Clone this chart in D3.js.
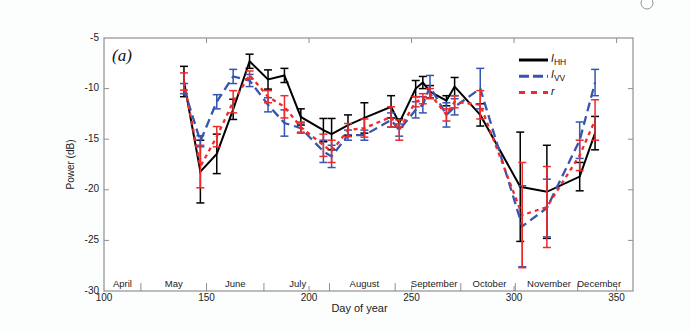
<!DOCTYPE html>
<html>
<head>
<meta charset="utf-8">
<script src="https://cdn.jsdelivr.net/npm/d3@7"></script>
<style>
  html, body { margin: 0; padding: 0; background: #fcfefe; }
  svg { display: block; }
  text { font-family: "Liberation Sans", Arial, sans-serif; fill: #222; }
  text.serif { font-family: "Liberation Serif", "DejaVu Serif", serif; font-style: italic; fill: #111; }
</style>
</head>
<body>
<svg id="chart" width="690" height="333"></svg>
<script>
// ---- data ----
const hhDays = [139, 147, 155, 163, 171, 180, 188, 196, 207, 211, 219, 227, 240, 244, 252, 255.5, 259, 267, 271, 283.5, 303, 316, 332, 339.5];
const hhVals = [-9.3, -18.2, -16.45, -12.05, -7.3, -9.1, -8.7, -12.8, -14.1, -14.5, -13.6, -12.9, -11.8, -13.4, -10.0, -9.4, -10.3, -11.2, -9.8, -12.6, -19.7, -20.2, -18.7, -14.4];
const hhErr  = [1.5, 3.1, 1.95, 1.0, 0.7, 0.95, 0.7, 0.8, 1.15, 1.55, 1.0, 1.5, 1.1, 0.4, 0.8, 0.6, 0.6, 0.5, 0.9, 1.1, 5.4, 4.6, 1.4, 1.65];

const vvDays = [139, 147, 155, 163, 171, 180, 188, 196, 207, 211, 219, 227, 240, 244, 252, 255.5, 259, 267, 271, 283.5, 304, 316, 332, 339.5];
const vvVals = [-10.0, -15.2, -11.3, -8.8, -9.2, -11.6, -13.4, -13.9, -16.2, -16.7, -14.6, -14.6, -13.1, -14.1, -12.1, -11.6, -9.8, -12.6, -11.8, -10.0, -23.6, -21.8, -15.1, -9.4];
const vvErr  = [0.5, 0.55, 0.7, 0.7, 0.6, 0.7, 1.3, 0.5, 1.1, 1.1, 0.5, 0.5, 0.7, 0.6, 0.8, 0.8, 1.1, 1.2, 0.8, 2.0, 4.0, 2.85, 1.8, 1.3];

const rDays = [139, 147, 155, 163, 171, 180, 188, 196, 207, 211, 219, 227, 240, 244, 252, 255.5, 259, 267, 271, 283.5, 304, 316, 332, 339.5];
const rVals = [-9.3, -17.7, -14.75, -11.3, -8.66, -10.8, -11.8, -13.8, -15.6, -16.2, -14.1, -13.9, -12.8, -14.1, -11.3, -11.0, -10.5, -12.6, -11.3, -11.6, -22.5, -21.7, -16.6, -13.1];
const rErr  = [0.85, 2.1, 1.0, 1.1, 0.4, 0.6, 1.1, 0.5, 1.1, 1.1, 0.65, 0.9, 1.0, 1.0, 0.5, 0.5, 0.5, 0.6, 0.6, 1.4, 5.2, 4.0, 1.5, 2.0];

const xTicks = [100, 150, 200, 250, 300, 350];
const yTicks = [-5, -10, -15, -20, -25, -30];
const monthNames = ["April", "May", "June", "July", "August", "September", "October", "November", "December"];
const monthCenters = [109, 134, 164, 194.5, 227, 261, 288, 317, 341.5];
const monthBounds = [118, 150, 178, 210, 242, 274, 300.6, 331];

// ---- layout ----
const svg = d3.select("#chart");
const L = 104, R = 633, T = 38, B = 291;
const x = d3.scaleLinear().domain([100, 358]).range([L, R]);
const y = d3.scaleLinear().domain([-30, -5]).range([B, T]);

const axisColor = "#8f8f8f";

// frame
svg.append("rect").attr("x", L).attr("y", T).attr("width", R - L).attr("height", B - T)
  .attr("fill", "#ffffff").attr("stroke", axisColor).attr("stroke-width", 1.2);

// y ticks (left & right, inward)
yTicks.forEach(v => {
  if (v !== -5 && v !== -30) {
    svg.append("line").attr("x1", L).attr("x2", L + 5).attr("y1", y(v)).attr("y2", y(v)).attr("stroke", axisColor);
    svg.append("line").attr("x1", R).attr("x2", R - 5).attr("y1", y(v)).attr("y2", y(v)).attr("stroke", axisColor);
  }
  svg.append("text").attr("x", L - 5).attr("y", y(v)).attr("text-anchor", "end")
    .attr("dominant-baseline", "middle").attr("font-size", 10).text(v);
});
// x ticks (top & bottom, inward)
xTicks.forEach(v => {
  if (v !== 100) {
    svg.append("line").attr("x1", x(v)).attr("x2", x(v)).attr("y1", T).attr("y2", T + 5).attr("stroke", axisColor);
    svg.append("line").attr("x1", x(v)).attr("x2", x(v)).attr("y1", B).attr("y2", B - 5).attr("stroke", axisColor);
  }
  svg.append("text").attr("x", x(v)).attr("y", B + 7).attr("text-anchor", "middle")
    .attr("dominant-baseline", "middle").attr("font-size", 10).text(v);
});
// month separators & labels
monthBounds.forEach(d => {
  svg.append("line").attr("x1", x(d)).attr("x2", x(d)).attr("y1", B).attr("y2", B - 8)
    .attr("stroke", axisColor).attr("stroke-width", 1);
});
monthNames.forEach((m, i) => {
  svg.append("text").attr("x", x(monthCenters[i])).attr("y", B - 7).attr("text-anchor", "middle")
    .attr("dominant-baseline", "middle").attr("font-size", 9.5).text(m);
});

// axis titles
svg.append("text").attr("x", (L + R) / 2 - 9).attr("y", B + 18).attr("text-anchor", "middle")
  .attr("dominant-baseline", "middle").attr("font-size", 11).text("Day of year");
svg.append("text").attr("transform", `translate(71,${(T + B) / 2}) rotate(-90)`)
  .attr("text-anchor", "middle").attr("dominant-baseline", "middle").attr("font-size", 10).text("Power (dB)");

// panel label
svg.append("text").attr("class", "serif").attr("x", 112).attr("y", 61)
  .attr("font-size", 17).text("(a)");

// ---- series ----
const series = [
  { days: hhDays, vals: hhVals, err: hhErr, color: "#000000", dash: null, width: 2 },
  { days: vvDays, vals: vvVals, err: vvErr, color: "#3556b0", dash: "9,5", width: 2.3 },
  { days: rDays, vals: rVals, err: rErr, color: "#ee2a2a", dash: "4,4", width: 2.3 }
];
const line = d3.line().x(d => x(d.d)).y(d => y(d.v));
const cap = 4;
series.forEach(s => {
  const pts = s.days.map((d, i) => ({ d: d, v: s.vals[i], e: s.err[i] }));
  const g = svg.append("g");
  pts.forEach(p => {
    const cx = x(p.d), y1 = y(p.v + p.e), y2 = y(p.v - p.e);
    g.append("line").attr("x1", cx).attr("x2", cx).attr("y1", y1).attr("y2", y2).attr("stroke", s.color).attr("stroke-width", 1.5);
    g.append("line").attr("x1", cx - cap).attr("x2", cx + cap).attr("y1", y1).attr("y2", y1).attr("stroke", s.color).attr("stroke-width", 1.5);
    g.append("line").attr("x1", cx - cap).attr("x2", cx + cap).attr("y1", y2).attr("y2", y2).attr("stroke", s.color).attr("stroke-width", 1.5);
  });
  g.append("path").datum(pts).attr("d", line).attr("fill", "none").attr("stroke", s.color)
    .attr("stroke-width", s.width).attr("stroke-dasharray", s.dash);
});

// ---- legend ----
const legend = [
  { color: "#000000", dash: null, main: "I", sub: "HH" },
  { color: "#3556b0", dash: "10,4", main: "I", sub: "VV" },
  { color: "#ee2a2a", dash: "6,6", main: "r", sub: "" }
];
legend.forEach((l, i) => {
  const ly = 60 + i * 16.3;
  svg.append("line").attr("x1", 519).attr("x2", 548).attr("y1", ly).attr("y2", ly)
    .attr("stroke", l.color).attr("stroke-width", 3).attr("stroke-dasharray", l.dash);
  const t = svg.append("text").attr("x", 551).attr("y", ly + 2).attr("font-size", 10.5).style("fill", "#111");
  t.append("tspan").attr("font-style", "italic").text(l.main);
  if (l.sub) t.append("tspan").attr("font-size", 8.5).attr("dy", 3).text(l.sub);
});

// small artefact circle at top right (from source figure)
svg.append("circle").attr("cx", 647).attr("cy", 3).attr("r", 6).attr("fill", "none").attr("stroke", "#777").attr("stroke-width", 0.8);
</script>
</body>
</html>
